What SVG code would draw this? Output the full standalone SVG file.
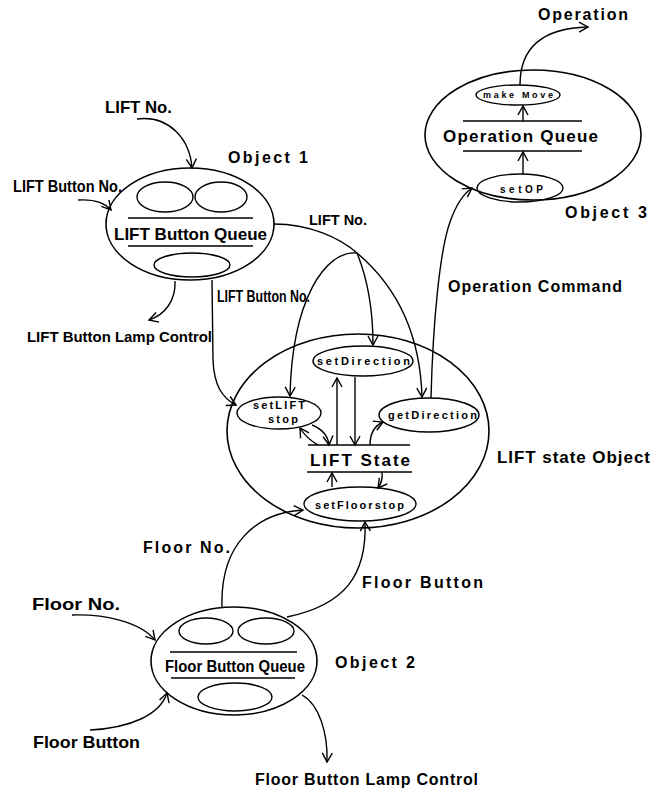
<svg xmlns="http://www.w3.org/2000/svg" width="653" height="790" viewBox="0 0 653 790">
<style>
.o{fill:none;stroke:#000;stroke-width:1.6}
.i{fill:none;stroke:#000;stroke-width:1.4}
.c{fill:none;stroke:#000;stroke-width:1.4}
.t{font-family:"Liberation Sans",Arial,sans-serif;font-weight:bold;fill:#000}
.s{font-family:"Liberation Sans",Arial,sans-serif;font-weight:bold;fill:#000}
</style>
<defs>
<marker id="a" markerUnits="userSpaceOnUse" markerWidth="14" markerHeight="14" refX="10" refY="6" orient="auto" viewBox="0 0 14 12">
<path d="M1,1 L10,6 L1,11" fill="none" stroke="#000" stroke-width="1.4"/>
</marker>
</defs>
<rect width="653" height="790" fill="#fff"/>

<g id="object1">
<ellipse class="o" cx="190" cy="224" rx="84" ry="56"/>
<ellipse class="i" cx="165" cy="197" rx="28" ry="15"/>
<ellipse class="i" cx="221" cy="197" rx="26" ry="15"/>
<line class="i" x1="128" y1="218" x2="253" y2="218"/>
<text class="t" x="114" y="240" font-size="17" textLength="153" lengthAdjust="spacingAndGlyphs">LIFT Button Queue</text>
<line class="i" x1="128" y1="246" x2="253" y2="246"/>
<ellipse class="i" cx="192" cy="265" rx="38" ry="12"/>
<text class="t" x="228" y="163" font-size="16" textLength="80" lengthAdjust="spacing">Object 1</text>
</g>

<g id="object3">
<ellipse class="o" cx="533" cy="135" rx="108" ry="65"/>
<ellipse class="i" cx="518" cy="95" rx="42" ry="10"/>
<text class="s" x="483" y="98" font-size="9" textLength="70" lengthAdjust="spacing">make Move</text>
<line class="i" x1="463" y1="121" x2="582" y2="121"/>
<text class="t" x="443" y="142" font-size="17" textLength="155" lengthAdjust="spacing">Operation Queue</text>
<line class="i" x1="463" y1="151" x2="582" y2="151"/>
<ellipse class="i" cx="520" cy="188" rx="43" ry="14"/>
<text class="s" x="500" y="193" font-size="10" textLength="43" lengthAdjust="spacing">setOP</text>
<text class="t" x="565" y="218" font-size="16" textLength="82" lengthAdjust="spacing">Object 3</text>
</g>

<g id="liftstate">
<ellipse class="o" cx="358" cy="431" rx="131" ry="97"/>
<ellipse class="i" cx="363" cy="361" rx="50" ry="15"/>
<text class="s" x="317" y="365" font-size="11" textLength="93" lengthAdjust="spacing">setDirection</text>
<ellipse class="i" cx="279" cy="413" rx="42" ry="16"/>
<text class="s" x="253" y="409" font-size="11" textLength="52" lengthAdjust="spacing">setLIFT</text>
<text class="s" x="268" y="423" font-size="11" textLength="30" lengthAdjust="spacing">stop</text>
<ellipse class="i" cx="429" cy="415" rx="50" ry="17"/>
<text class="s" x="388" y="419" font-size="11" textLength="89" lengthAdjust="spacing">getDirection</text>
<line class="i" x1="308" y1="445" x2="410" y2="445"/>
<text class="t" x="310" y="466" font-size="17" textLength="100" lengthAdjust="spacing">LIFT State</text>
<line class="i" x1="307" y1="472" x2="412" y2="472"/>
<ellipse class="i" cx="360" cy="504" rx="56" ry="17"/>
<text class="s" x="315" y="509" font-size="11" textLength="89" lengthAdjust="spacing">setFloorstop</text>
<text class="t" x="497" y="463" font-size="17" textLength="153" lengthAdjust="spacing">LIFT state Object</text>
</g>

<g id="object2">
<ellipse class="o" cx="234" cy="661" rx="83" ry="54"/>
<ellipse class="i" cx="206" cy="631" rx="27" ry="13"/>
<ellipse class="i" cx="266" cy="631" rx="28" ry="13"/>
<line class="i" x1="170" y1="652" x2="297" y2="652"/>
<text class="t" x="165" y="672" font-size="16" textLength="140" lengthAdjust="spacingAndGlyphs">Floor Button Queue</text>
<line class="i" x1="171" y1="678" x2="295" y2="678"/>
<ellipse class="i" cx="235" cy="697" rx="37" ry="14"/>
<text class="t" x="335" y="668" font-size="16" textLength="80" lengthAdjust="spacing">Object 2</text>
</g>

<g id="connectors">
<path class="c" d="M137 119 C170 115 190 140 192 168" marker-end="url(#a)"/>
<path class="c" d="M78 200 C95 199 105 203 111 210" marker-end="url(#a)"/>
<path class="c" d="M175 281 C176 300 165 315 149 320" marker-end="url(#a)"/>
<path class="c" d="M212 280 L213 360 C214 385 222 398 236 405" marker-end="url(#a)"/>
<path class="c" d="M274 224 C310 224 340 238 357 253"/>
<path class="c" d="M357 253 C395 285 420 330 422 397" marker-end="url(#a)"/>
<path class="c" d="M357 253 C368 280 373 310 373 345" marker-end="url(#a)"/>
<path class="c" d="M357 253 C325 250 292 300 290 396" marker-end="url(#a)"/>
<path class="c" d="M431 398 C433 320 440 250 450 222 C456 205 463 194 472 188" marker-end="url(#a)"/>
<path class="c" d="M520 85 C520 45 545 28 588 27" marker-end="url(#a)"/>
<path class="c" d="M523 174 L523 152" marker-end="url(#a)"/>
<path class="c" d="M523 121 L523 106" marker-end="url(#a)"/>
<path class="c" d="M312 425 C322 429 328 436 329 445" marker-end="url(#a)"/>
<path class="c" d="M318 445 C311 441 305 436 300 428" marker-end="url(#a)"/>
<path class="c" d="M337 445 L337 378" marker-end="url(#a)"/>
<path class="c" d="M355 377 L355 445" marker-end="url(#a)"/>
<path class="c" d="M370 445 C370 433 374 426 383 422" marker-end="url(#a)"/>
<path class="c" d="M332 487 L332 473" marker-end="url(#a)"/>
<path class="c" d="M382 472 C383 480 381 484 378 488" marker-end="url(#a)"/>
<path class="c" d="M222 607 C220 545 255 513 303 510" marker-end="url(#a)"/>
<path class="c" d="M287 617 C345 605 367 575 365 522" marker-end="url(#a)"/>
<path class="c" d="M72 615 C105 614 140 622 155 640" marker-end="url(#a)"/>
<path class="c" d="M90 730 C130 728 160 715 167 693" marker-end="url(#a)"/>
<path class="c" d="M302 695 C320 705 328 735 327 762" marker-end="url(#a)"/>
</g>

<g id="labels">
<text class="t" x="105" y="113" font-size="17" textLength="67" lengthAdjust="spacingAndGlyphs">LIFT No.</text>
<text class="t" x="13" y="192" font-size="17" textLength="109" lengthAdjust="spacingAndGlyphs">LIFT Button No.</text>
<text class="t" x="309" y="225" font-size="15" textLength="58" lengthAdjust="spacingAndGlyphs">LIFT No.</text>
<text class="t" x="217" y="302" font-size="16" textLength="93" lengthAdjust="spacingAndGlyphs">LIFT Button No.</text>
<text class="t" x="27" y="342" font-size="15" textLength="185" lengthAdjust="spacingAndGlyphs">LIFT Button Lamp Control</text>
<text class="t" x="538" y="20" font-size="16" textLength="90" lengthAdjust="spacing">Operation</text>
<text class="t" x="448" y="292" font-size="16" textLength="174" lengthAdjust="spacing">Operation Command</text>
<text class="t" x="143" y="553" font-size="16" textLength="87" lengthAdjust="spacing">Floor No.</text>
<text class="t" x="362" y="588" font-size="16" textLength="121" lengthAdjust="spacing">Floor Button</text>
<text class="t" x="32" y="610" font-size="17" textLength="88" lengthAdjust="spacingAndGlyphs">Floor No.</text>
<text class="t" x="33" y="748" font-size="17" textLength="107" lengthAdjust="spacingAndGlyphs">Floor Button</text>
<text class="t" x="255" y="785" font-size="16" textLength="223" lengthAdjust="spacing">Floor Button Lamp Control</text>
</g>
</svg>
